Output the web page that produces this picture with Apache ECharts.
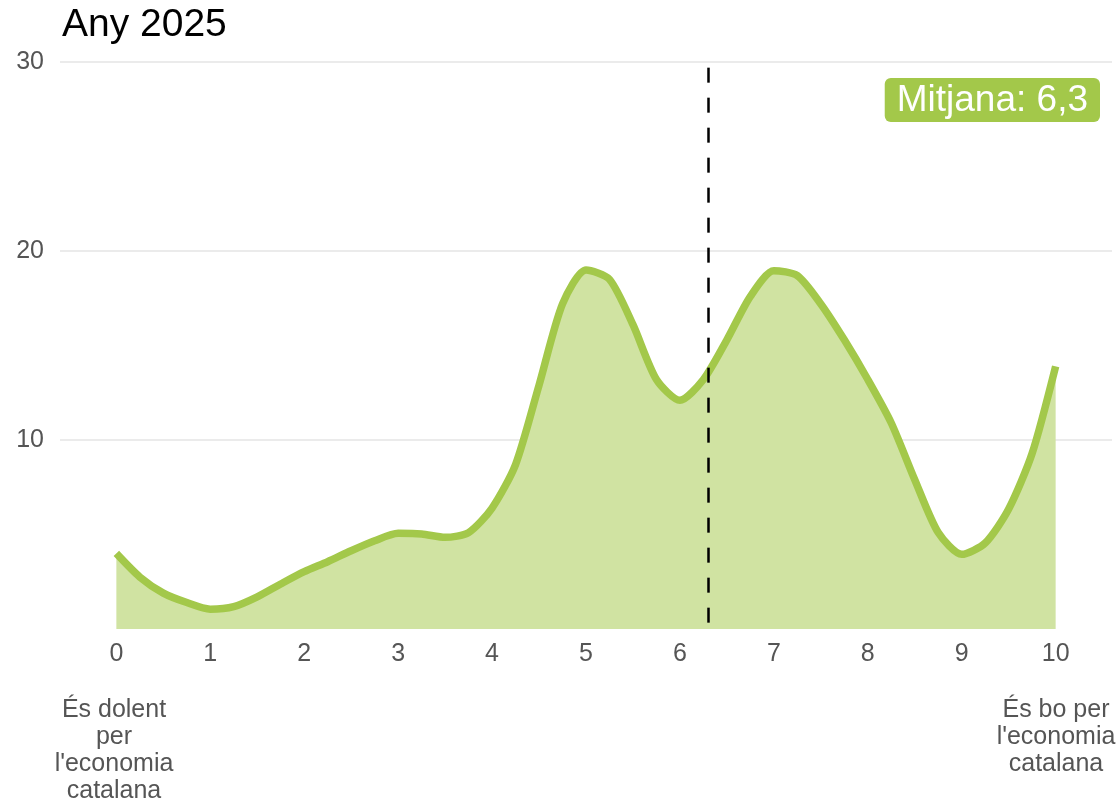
<!DOCTYPE html>
<html>
<head>
<meta charset="utf-8">
<script src="https://cdn.jsdelivr.net/npm/echarts@6/dist/echarts.min.js"></script>
<style>
html,body{margin:0;padding:0;background:#fff;}
#chart{width:1120px;height:803px;}
</style>
</head>
<body>
<div id="chart"></div>
<script>
const titleText = 'Any 2025';
const scoreValues = [0,0.25,0.5,0.75,1,1.25,1.5,1.75,2,2.25,2.5,2.75,3,3.25,3.5,3.75,4,4.25,4.5,4.75,5,5.25,5.5,5.75,6,6.25,6.5,6.75,7,7.25,7.5,7.75,8,8.25,8.5,8.75,9,9.25,9.5,9.75,10];
const densityValues = [4.0,2.75,1.9,1.4,1.05,1.18,1.7,2.38,3.03,3.56,4.14,4.67,5.06,5.03,4.85,5.1,6.4,8.7,12.9,17.2,19.0,18.5,16.1,13.2,12.1,13.2,15.3,17.6,18.96,18.7,17.2,15.3,13.2,10.9,7.9,5.1,3.95,4.55,6.35,9.3,13.9];
const xTickValues = [0,1,2,3,4,5,6,7,8,9,10];
const yTickValues = [0,10,20,30];
const meanValue = 6.3;
const meanTop = 29.7;
const leftNote = 'És dolent\nper\nl\'economia\ncatalana';
const rightNote = 'És bo per\nl\'economia\ncatalana';

const FONT = '"Liberation Sans", Arial, sans-serif';
const GREEN = '#a3c84a';

const chart = echarts.init(document.getElementById('chart'), null, {renderer: 'canvas'});
chart.setOption({
  animation: false,
  backgroundColor: '#fff',
  title: {
    text: titleText, left: 57, top: 1,
    textStyle: {fontFamily: FONT, fontSize: 39, fontWeight: 'normal', color: '#000'}
  },
  grid: {left: 60, right: 8, top: 62, bottom: 174, containLabel: false},
  xAxis: {
    type: 'value', min: -0.6, max: 10.6,
    axisLine: {show: false}, axisTick: {show: false}, splitLine: {show: false},
    axisLabel: {customValues: xTickValues, margin: 13, fontFamily: FONT, fontSize: 25, color: '#555'}
  },
  yAxis: {
    type: 'value', min: yTickValues[0], max: yTickValues[yTickValues.length - 1], interval: 10,
    axisLine: {show: false}, axisTick: {show: false},
    splitLine: {show: true, showMinLine: false, lineStyle: {color: '#ebebeb', width: 2}},
    axisLabel: {showMinLabel: false, margin: 16, fontFamily: FONT, fontSize: 25, color: '#555'}
  },
  graphic: [
    {type: 'text', right: 20, top: 78, z: 100,
     style: {text: 'Mitjana: ' + String(meanValue).replace('.', ','), fontFamily: FONT, fontSize: 37, fill: '#fff',
             backgroundColor: GREEN, borderRadius: 6, padding: [4, 12, 3, 12]}},
    {type: 'text', x: 114, y: 697,
     style: {text: leftNote, fontFamily: FONT, fontSize: 25, lineHeight: 27, fill: '#555', align: 'center', verticalAlign: 'top'}},
    {type: 'text', x: 1056, y: 697,
     style: {text: rightNote, fontFamily: FONT, fontSize: 25, lineHeight: 27, fill: '#555', align: 'center', verticalAlign: 'top'}}
  ],
  series: [{
    type: 'line',
    data: scoreValues.map((x, i) => [x, densityValues[i]]),
    smooth: 0.25,
    showSymbol: false,
    lineStyle: {color: GREEN, width: 7.5},
    areaStyle: {color: '#d0e3a2', opacity: 1},
    markLine: {
      silent: true, symbol: 'none', animation: false,
      label: {show: false},
      lineStyle: {color: '#000', type: [15, 15], width: 2.5},
      data: [[{coord: [meanValue, meanTop]}, {coord: [meanValue, 0]}]]
    }
  }]
});
</script>
</body>
</html>
